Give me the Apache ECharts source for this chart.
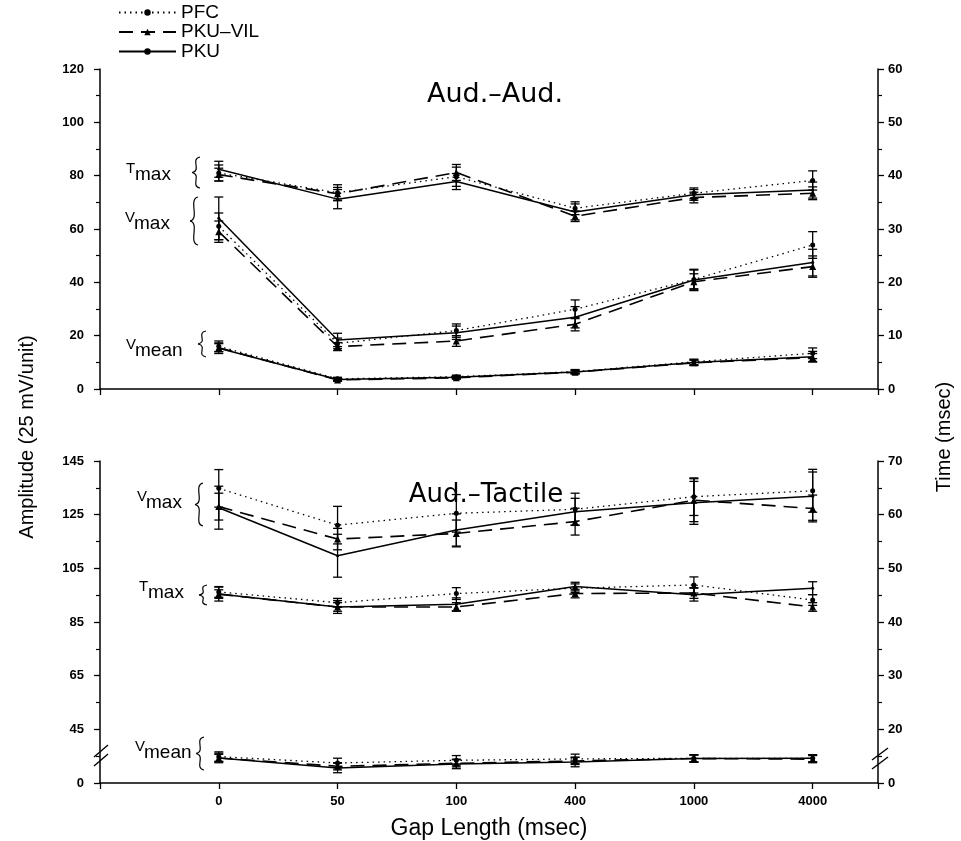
<!DOCTYPE html>
<html>
<head>
<meta charset="utf-8">
<script src="https://cdn.jsdelivr.net/npm/echarts@6/dist/echarts.min.js"></script>
<style>
  html, body { margin: 0; padding: 0; background: #fff; }
  #chart { width: 961px; height: 841px; }
</style>
</head>
<body>
<div id="chart"></div>
<script>
// gap categories (x axis)
var gapLabels = ['0', '50', '100', '400', '1000', '4000'];

// Aud.-Aud. panel : Tmax in msec (right axis), Vmax / Vmean in amplitude units (left axis)
var aaTmaxPFC = [40.5, 36.8, 39.8, 33.9, 36.7, 39.1];
var aaTmaxVIL = [40.2, 36.6, 40.6, 32.4, 35.9, 36.7];
var aaTmaxPKU = [41.2, 35.6, 38.9, 33.2, 36.4, 37.3];
var aaTmaxPFCErr = [1.5, 1.5, 1.8, 1.2, 1.0, 1.8];
var aaTmaxVILErr = [1.2, 1.2, 1.5, 1.0, 1.0, 1.2];
var aaTmaxPKUErr = [1.5, 1.8, 1.5, 1.5, 1.0, 1.5];

var aaVmaxPFC = [61, 17.1, 21.9, 29.9, 41.1, 54];
var aaVmaxVIL = [59, 15.9, 18.0, 24.3, 40.2, 45.9];
var aaVmaxPKU = [64, 18.4, 21.1, 26.9, 40.9, 47.4];
var aaVmaxPFCErr = [5, 2, 2.5, 3.5, 3.5, 5];
var aaVmaxVILErr = [4, 1.5, 2, 2.5, 3, 4];
var aaVmaxPKUErr = [8, 2.5, 2.5, 4, 4, 5];

var aaVmeanPFC = [16, 3.8, 4.6, 6.5, 10.2, 13.4];
var aaVmeanVIL = [15.5, 3.4, 4.2, 6.3, 9.8, 11.8];
var aaVmeanPKU = [15.3, 3.6, 4.4, 6.4, 9.9, 12.1];
var aaVmeanPFCErr = [2, 0.6, 0.6, 0.8, 1, 2];
var aaVmeanVILErr = [1.5, 0.5, 0.5, 0.6, 1, 1.5];
var aaVmeanPKUErr = [2, 0.6, 0.6, 0.7, 1, 2];

// Aud.-Tactile panel
var atVmaxPFC = [134.8, 121.1, 125.5, 127, 131.7, 133.9];
var atVmaxVIL = [128, 115.9, 118, 122.4, 130.4, 127.3];
var atVmaxPKU = [127.6, 109.7, 119.3, 126.1, 129.4, 131.9];
var atVmaxPFCErr = [7, 7, 7, 6, 7, 8];
var atVmaxVILErr = [5, 4, 5, 5, 8, 5];
var atVmaxPKUErr = [8, 8, 6, 5, 8, 9];

var atTmaxPFC = [45.6, 43.6, 45.3, 46.3, 46.9, 44.1];
var atTmaxVIL = [45.2, 42.8, 42.8, 45.3, 45.4, 42.8];
var atTmaxPKU = [45.2, 42.8, 43.3, 46.6, 45.1, 46.3];
var atTmaxPFCErr = [1, 0.8, 1.1, 0.8, 1.5, 1];
var atTmaxVILErr = [0.8, 0.8, 0.8, 0.8, 1, 0.8];
var atTmaxPKUErr = [1.3, 1.2, 1.2, 0.8, 1.2, 1.2];

var atVmeanPFC = [22.1, 16.8, 19, 20.2, 20.7, 20.7];
var atVmeanVIL = [21, 14, 16.5, 18.5, 20.5, 20];
var atVmeanPKU = [21, 12.6, 16, 17.6, 20.5, 20.7];
var atVmeanPFCErr = [4, 4, 4, 4, 3, 3];
var atVmeanVILErr = [3, 3, 3, 3, 3, 3];
var atVmeanPKUErr = [4, 4, 4, 4, 3, 3];

// broken axes of the lower panel: 0..45 (amplitude) and 0..20 (msec) are squeezed into one step
function ampBroken(v) { return v <= 45 ? v * 20 / 45 : v - 25; }
function timeBroken(v) { return v <= 20 ? v * 10 / 20 : v - 10; }
function same(v) { return v; }

var styles = {
  'PFC':     { line: { type: [1.5, 4], width: 1.3 }, symbol: 'circle', size: 5 },
  'PKU–VIL': { line: { type: [14, 8], width: 1.6 }, symbol: 'triangle', size: 7 },
  'PKU':     { line: { type: 'solid', width: 1.5 }, symbol: 'circle', size: 3 }
};

function lineSeries(name, panel, yAxis, values, f) {
  var s = styles[name];
  return {
    type: 'line', name: name, xAxisIndex: panel, yAxisIndex: yAxis,
    data: values.map(function (v, i) { return [i, f(v)]; }),
    symbol: s.symbol, symbolSize: s.size, showSymbol: true,
    itemStyle: { color: '#000' },
    lineStyle: { color: '#000', width: s.line.width, type: s.line.type },
    z: 3
  };
}

function renderErr(params, api) {
  var x = api.value(0);
  var lo = api.coord([x, api.value(1)]);
  var hi = api.coord([x, api.value(2)]);
  var w = 4.5;
  var st = { stroke: '#000', lineWidth: 1.3 };
  return { type: 'group', children: [
    { type: 'line', shape: { x1: lo[0], y1: lo[1], x2: hi[0], y2: hi[1] }, style: st },
    { type: 'line', shape: { x1: lo[0] - w, y1: lo[1], x2: lo[0] + w, y2: lo[1] }, style: st },
    { type: 'line', shape: { x1: hi[0] - w, y1: hi[1], x2: hi[0] + w, y2: hi[1] }, style: st }
  ]};
}

function errSeries(panel, yAxis, values, errs, f) {
  return {
    type: 'custom', xAxisIndex: panel, yAxisIndex: yAxis,
    renderItem: renderErr,
    encode: { x: 0, y: [1, 2] },
    data: values.map(function (v, i) { return [i, f(v - errs[i]), f(v + errs[i])]; }),
    z: 2
  };
}

var series = [
  lineSeries('PFC', 0, 1, aaTmaxPFC, same),
  lineSeries('PKU–VIL', 0, 1, aaTmaxVIL, same),
  lineSeries('PKU', 0, 1, aaTmaxPKU, same),
  lineSeries('PFC', 0, 0, aaVmaxPFC, same),
  lineSeries('PKU–VIL', 0, 0, aaVmaxVIL, same),
  lineSeries('PKU', 0, 0, aaVmaxPKU, same),
  lineSeries('PFC', 0, 0, aaVmeanPFC, same),
  lineSeries('PKU–VIL', 0, 0, aaVmeanVIL, same),
  lineSeries('PKU', 0, 0, aaVmeanPKU, same),
  lineSeries('PFC', 1, 2, atVmaxPFC, ampBroken),
  lineSeries('PKU–VIL', 1, 2, atVmaxVIL, ampBroken),
  lineSeries('PKU', 1, 2, atVmaxPKU, ampBroken),
  lineSeries('PFC', 1, 3, atTmaxPFC, timeBroken),
  lineSeries('PKU–VIL', 1, 3, atTmaxVIL, timeBroken),
  lineSeries('PKU', 1, 3, atTmaxPKU, timeBroken),
  lineSeries('PFC', 1, 2, atVmeanPFC, ampBroken),
  lineSeries('PKU–VIL', 1, 2, atVmeanVIL, ampBroken),
  lineSeries('PKU', 1, 2, atVmeanPKU, ampBroken),

  errSeries(0, 1, aaTmaxPFC, aaTmaxPFCErr, same),
  errSeries(0, 1, aaTmaxVIL, aaTmaxVILErr, same),
  errSeries(0, 1, aaTmaxPKU, aaTmaxPKUErr, same),
  errSeries(0, 0, aaVmaxPFC, aaVmaxPFCErr, same),
  errSeries(0, 0, aaVmaxVIL, aaVmaxVILErr, same),
  errSeries(0, 0, aaVmaxPKU, aaVmaxPKUErr, same),
  errSeries(0, 0, aaVmeanPFC, aaVmeanPFCErr, same),
  errSeries(0, 0, aaVmeanVIL, aaVmeanVILErr, same),
  errSeries(0, 0, aaVmeanPKU, aaVmeanPKUErr, same),
  errSeries(1, 2, atVmaxPFC, atVmaxPFCErr, ampBroken),
  errSeries(1, 2, atVmaxVIL, atVmaxVILErr, ampBroken),
  errSeries(1, 2, atVmaxPKU, atVmaxPKUErr, ampBroken),
  errSeries(1, 3, atTmaxPFC, atTmaxPFCErr, timeBroken),
  errSeries(1, 3, atTmaxVIL, atTmaxVILErr, timeBroken),
  errSeries(1, 3, atTmaxPKU, atTmaxPKUErr, timeBroken),
  errSeries(1, 2, atVmeanPFC, atVmeanPFCErr, ampBroken),
  errSeries(1, 2, atVmeanVIL, atVmeanVILErr, ampBroken),
  errSeries(1, 2, atVmeanPKU, atVmeanPKUErr, ampBroken)
];

var axisLine = { show: true, onZero: false, lineStyle: { color: '#000', width: 1.5 } };
var tickFont = { color: '#000', fontSize: 13, fontWeight: 'bold', fontFamily: 'Liberation Sans' };

function xAxis(panel, showLabels) {
  return {
    type: 'value', gridIndex: panel, min: -1, max: 5.55, interval: 1,
    axisLine: axisLine, splitLine: { show: false },
    axisTick: { show: true, inside: false, length: 6, lineStyle: { color: '#000', width: 1.3 } },
    axisLabel: Object.assign({
      show: showLabels, margin: 12,
      formatter: function (v) {
        return (Math.abs(v - Math.round(v)) < 1e-6 && v >= 0 && v < gapLabels.length) ? gapLabels[Math.round(v)] : '';
      }
    }, tickFont),
    name: showLabels ? 'Gap Length (msec)' : '',
    nameLocation: 'middle', nameGap: 34,
    nameTextStyle: { color: '#000', fontSize: 23, fontFamily: 'Liberation Sans' }
  };
}

function yAxis(panel, pos, max, interval, fmt) {
  return {
    type: 'value', gridIndex: panel, position: pos, min: 0, max: max, interval: interval,
    axisLine: axisLine, splitLine: { show: false },
    axisTick: { show: true, inside: false, length: 6, lineStyle: { color: '#000', width: 1.3 } },
    minorTick: { show: true, splitNumber: 2, length: 4, lineStyle: { color: '#000', width: 1.2 } },
    axisLabel: Object.assign({ margin: pos === 'left' ? 16 : 10, formatter: fmt }, tickFont)
  };
}

// curly brace drawn as two s-curves meeting at the tip
function brace(x, y0, y1) {
  var w = 8, ym = (y0 + y1) / 2;
  var st = { fill: null, stroke: '#000', lineWidth: 1.2 };
  return [
    { type: 'bezierCurve', silent: true, style: st,
      shape: { x1: x + w, y1: y0, cpx1: x - 2, cpy1: y0 + 2, cpx2: x + w + 2, cpy2: ym - 2, x2: x, y2: ym } },
    { type: 'bezierCurve', silent: true, style: st,
      shape: { x1: x, y1: ym, cpx1: x + w + 2, cpy1: ym + 2, cpx2: x - 2, cpy2: y1 - 2, x2: x + w, y2: y1 } }
  ];
}

function subLabel(letter, rest, x, y) {
  return [
    { type: 'text', x: x, y: y - 3, style: { text: letter, fontSize: 15, fontFamily: 'Liberation Sans', fill: '#000', verticalAlign: 'middle' } },
    { type: 'text', x: x + 9, y: y + 3, style: { text: rest, fontSize: 19, fontFamily: 'Liberation Sans', fill: '#000', verticalAlign: 'middle' } }
  ];
}

function slash(x1, y1, x2, y2) {
  return { type: 'line', silent: true, shape: { x1: x1, y1: y1, x2: x2, y2: y2 }, style: { stroke: '#000', lineWidth: 1.4 } };
}

var graphics = [].concat(
  subLabel('T', 'max', 126, 172),
  subLabel('V', 'max', 125, 221),
  subLabel('V', 'mean', 126, 348),
  subLabel('V', 'max', 137, 500),
  subLabel('T', 'max', 139, 590),
  subLabel('V', 'mean', 135, 750),
  brace(192, 157, 188),
  brace(190, 197, 245),
  brace(198, 331, 357),
  brace(195, 483, 526),
  brace(199, 585, 605),
  brace(196, 737, 770),
  [
    slash(94, 757, 108, 745),
    slash(94, 766, 108, 754),
    slash(872, 760, 888, 748),
    slash(872, 769, 888, 757),
    { type: 'text', x: 27, y: 437, rotation: Math.PI / 2,
      style: { text: 'Amplitude (25 mV/unit)', fontSize: 20, fontFamily: 'Liberation Sans', fill: '#000', align: 'center', verticalAlign: 'middle' } },
    { type: 'text', x: 944, y: 437, rotation: Math.PI / 2,
      style: { text: 'Time (msec)', fontSize: 20, fontFamily: 'Liberation Sans', fill: '#000', align: 'center', verticalAlign: 'middle' } }
  ]
);

var chart = echarts.init(document.getElementById('chart'));
chart.setOption({
  backgroundColor: '#fff',
  animation: false,
  title: [
    { text: 'Aud.–Aud.', left: 490, top: 76, textAlign: 'center',
      textStyle: { fontSize: 27, fontWeight: 'normal', color: '#000', fontFamily: 'DejaVu Sans' } },
    { text: 'Aud.–Tactile', left: 481, top: 477, textAlign: 'center',
      textStyle: { fontSize: 26, fontWeight: 'normal', color: '#000', fontFamily: 'DejaVu Sans' } }
  ],
  legend: {
    data: ['PFC', 'PKU–VIL', 'PKU'],
    orient: 'vertical', left: 118, top: 3, padding: 0,
    itemWidth: 57, itemHeight: 8, itemGap: 0.5,
    textStyle: { fontSize: 19, lineHeight: 19, color: '#000', fontFamily: 'Liberation Sans' }
  },
  grid: [
    { left: 100, right: 83, top: 69, height: 320 },
    { left: 100, right: 83, top: 461, height: 322 }
  ],
  xAxis: [xAxis(0, false), xAxis(1, true)],
  yAxis: [
    yAxis(0, 'left', 120, 20, function (v) { return String(v); }),
    yAxis(0, 'right', 60, 10, function (v) { return String(v); }),
    yAxis(1, 'left', 120, 20, function (v) { return v === 0 ? '0' : String(v + 25); }),
    yAxis(1, 'right', 60, 10, function (v) { return v === 0 ? '0' : String(v + 10); })
  ],
  series: series,
  graphic: graphics
});
</script>
</body>
</html>
